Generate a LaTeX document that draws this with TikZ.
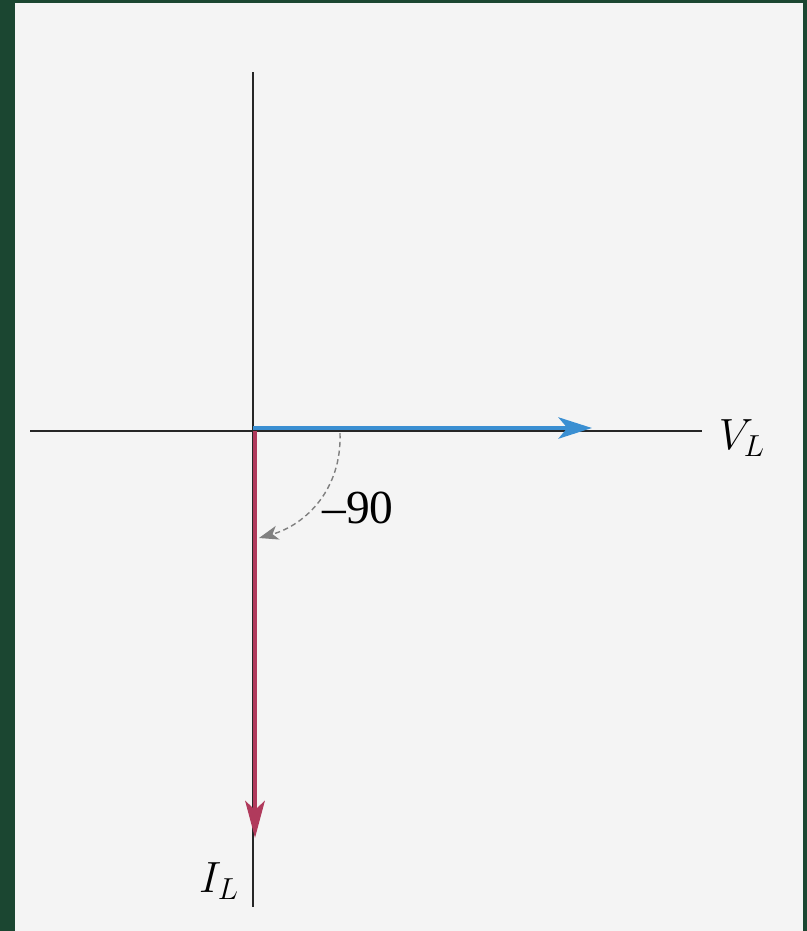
\documentclass[tikz,border=0pt]{standalone}
\usepackage{amsmath}
\usepackage{fontspec}
\setmainfont{Liberation Serif}
\usepackage{tikz}
\usetikzlibrary{arrows.meta}

\definecolor{frame}{HTML}{1B4631}
\definecolor{paper}{HTML}{F4F4F4}
\definecolor{voltblue}{HTML}{3A8FD2}
\definecolor{currred}{HTML}{B03A5C}

\tikzset{
  axis/.style={line width=1.1pt, black!85},
  phasor/.style={line width=2.8pt},
  lab/.style={font=\fontsize{27}{32}\selectfont, inner sep=0pt}
}

\begin{document}
\begin{tikzpicture}[x=0.02cm, y=-0.02cm]

% --- Frame and paper ---
\fill[frame] (0,0) rectangle (807,931);
\fill[paper] (15,3) rectangle (803,931);
\useasboundingbox (0,0) rectangle (807,931);

% --- Axis end points ---
\coordinate (O) at (253,431);
\coordinate (xl) at (30,431);
\coordinate (xr) at (702,431);
\coordinate (yt) at (253,72);
\coordinate (yb) at (253,907);

% --- Axes ---
\draw[axis] (xl) -- (xr);
\draw[axis] (yt) -- (yb);

% --- Phasors ---
\coordinate (vs) at (253,428);
\coordinate (vtip) at (592,428);
\draw[phasor, voltblue, -{Stealth[length=19pt, width=12pt, inset=5pt]}] (vs) -- (vtip);

\coordinate (is) at (255,431);
\coordinate (itip) at (255,838);
\draw[phasor, currred, -{Stealth[length=21pt, width=11pt, inset=5pt]}] (is) -- (itip);

% --- Phase angle ---
\coordinate (as) at (340,433);
\coordinate (ae) at (259,538);
\draw[gray, line width=0.8pt, densely dashed, -{Stealth[length=11pt, width=8pt, inset=3pt]}]
  (as) .. controls (342,490) and (305,525) .. (ae);
\node[lab] (ang) at (358,508) {–90};

% --- Labels ---
\node[lab] (vl) at (742,438) {$V_L$};
\node[lab] (il) at (219,881) {$I_L$};

\end{tikzpicture}
\end{document}
